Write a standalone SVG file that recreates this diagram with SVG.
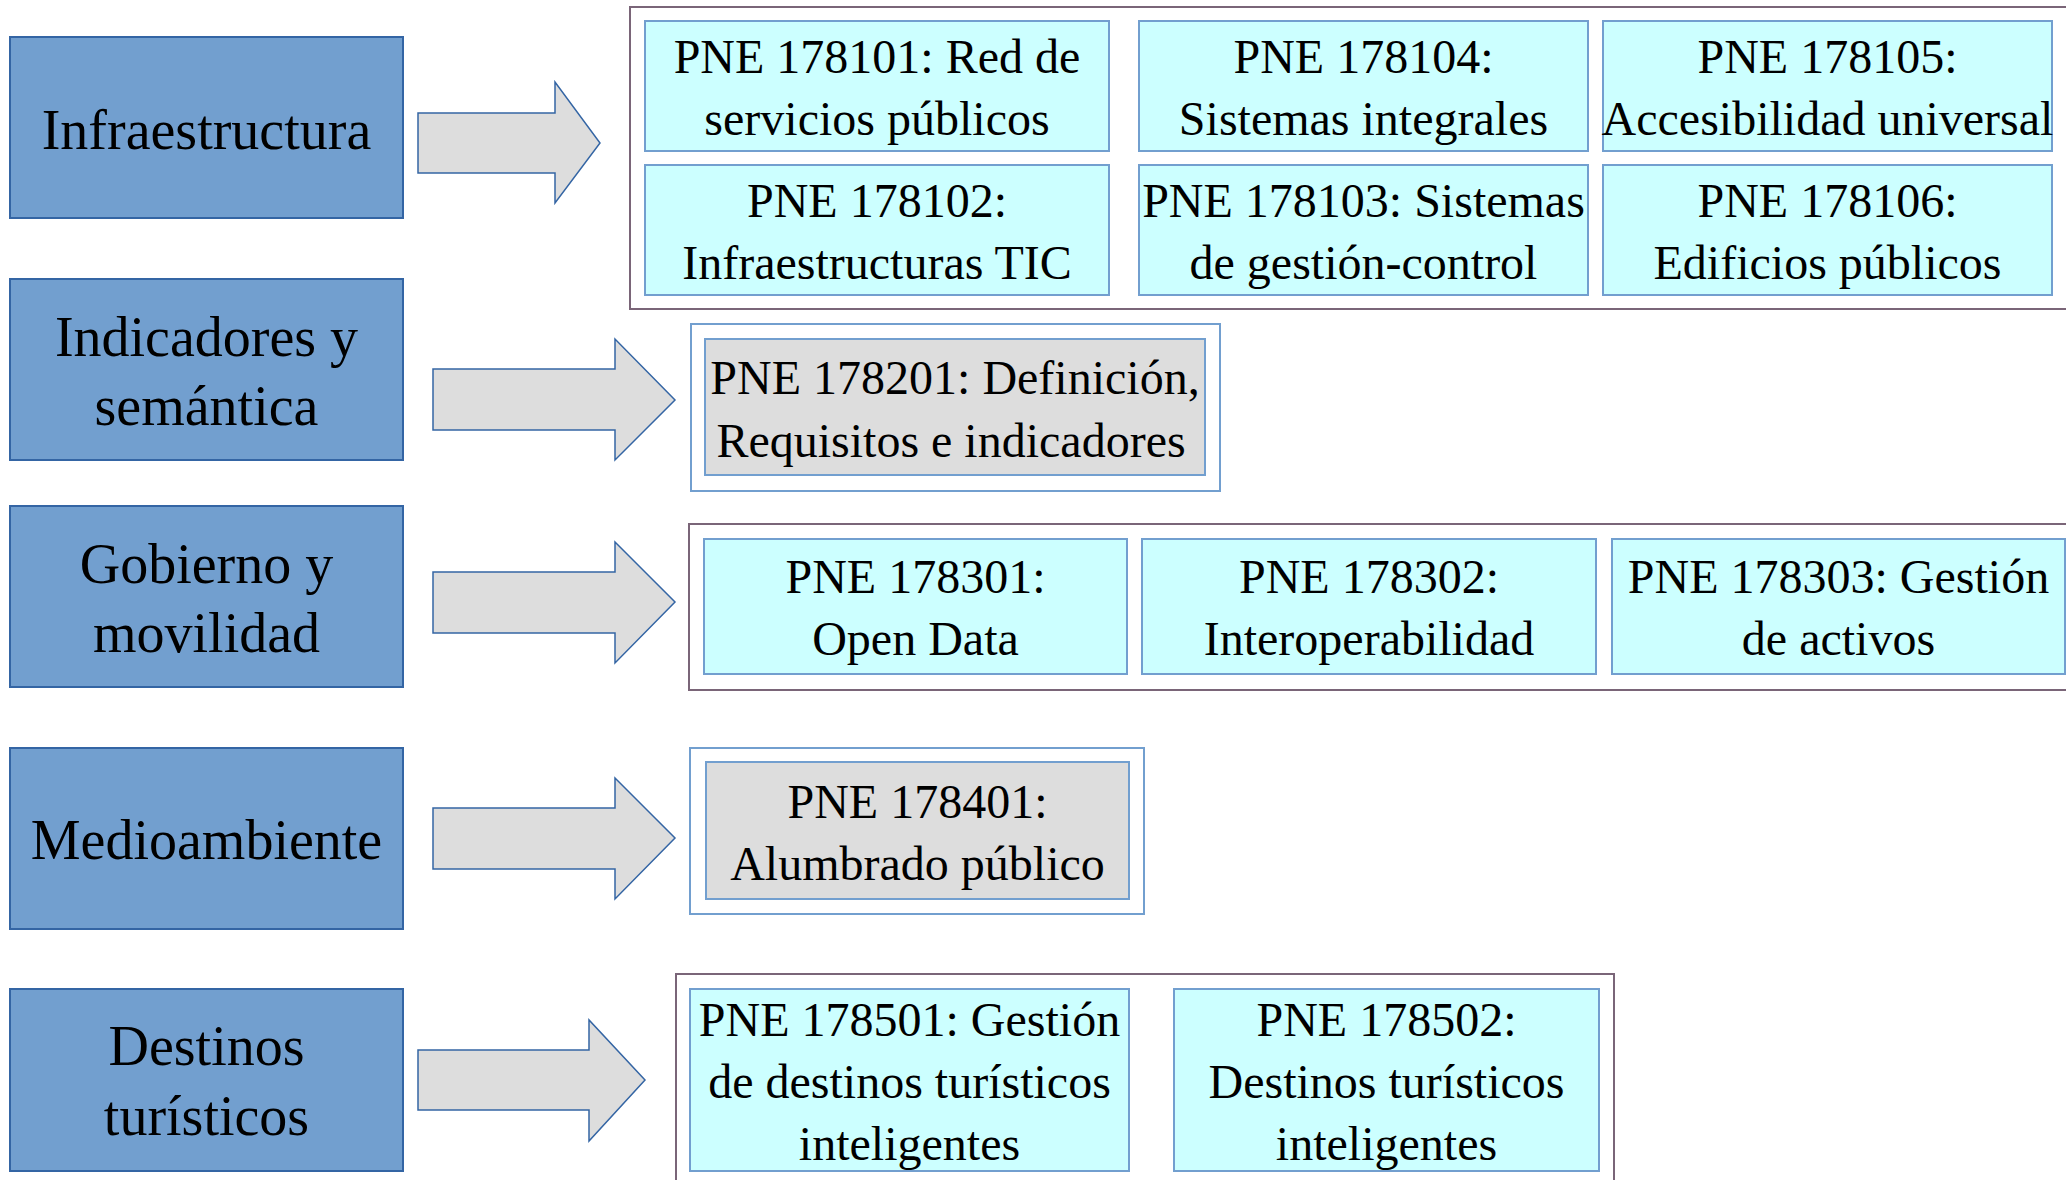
<svg xmlns="http://www.w3.org/2000/svg" width="2066" height="1180" viewBox="0 0 2066 1180">
<style>
text{font-family:"Liberation Serif","Times New Roman",serif;fill:#000;text-anchor:middle}
.lt{font-size:56px}
.rt{font-size:48px}
.cat{fill:#729fcf;stroke:#3465a4;stroke-width:2}
.cy{fill:#ccffff;stroke:#729fcf;stroke-width:2}
.gr{fill:#dddddd;stroke:#729fcf;stroke-width:2}
.ct{fill:#ffffff;stroke:#7a6578;stroke-width:2}
.cb{fill:#ffffff;stroke:#729fcf;stroke-width:2}
.ar{fill:#dddddd;stroke:#3465a4;stroke-width:1.5;stroke-linejoin:miter}
</style>
<rect width="2066" height="1180" fill="#ffffff"/>
<g id="connectors">
<polygon class="ar" points="418,113 555,113 555,82 600,143 555,203 555,173 418,173"/>
<polygon class="ar" points="433,369 615,369 615,339 675,400 615,460 615,430 433,430"/>
<polygon class="ar" points="433,572 615,572 615,542 675,602 615,663 615,633 433,633"/>
<polygon class="ar" points="433,808 615,808 615,778 675,838 615,899 615,869 433,869"/>
<polygon class="ar" points="418,1050 589,1050 589,1020 645,1080 589,1141 589,1110 418,1110"/>
</g>
<g id="n-infraestructura">
<rect class="cat" x="10" y="37" width="393" height="181"/>
<text class="lt" x="206.5" y="149">Infraestructura</text>
</g>
<g id="n-indicadores">
<rect class="cat" x="10" y="279" width="393" height="181"/>
<text class="lt" x="206.5" y="356">Indicadores y</text>
<text class="lt" x="206.5" y="425">semántica</text>
</g>
<g id="n-gobierno">
<rect class="cat" x="10" y="506" width="393" height="181"/>
<text class="lt" x="206.5" y="583">Gobierno y</text>
<text class="lt" x="206.5" y="652">movilidad</text>
</g>
<g id="n-medioambiente">
<rect class="cat" x="10" y="748" width="393" height="181"/>
<text class="lt" x="206.5" y="859">Medioambiente</text>
</g>
<g id="n-destinos">
<rect class="cat" x="10" y="989" width="393" height="182"/>
<text class="lt" x="206.5" y="1065">Destinos</text>
<text class="lt" x="206.5" y="1135">turísticos</text>
</g>
<g id="g-infraestructura">
<rect class="ct" x="630" y="7" width="1445" height="302"/>
<g id="pne178101">
<rect class="cy" x="645" y="21" width="464" height="130"/>
<text class="rt" x="877" y="73">PNE 178101: Red de</text>
<text class="rt" x="877" y="135">servicios públicos</text>
</g>
<g id="pne178104">
<rect class="cy" x="1139" y="21" width="449" height="130"/>
<text class="rt" x="1363.5" y="73">PNE 178104:</text>
<text class="rt" x="1363.5" y="135">Sistemas integrales</text>
</g>
<g id="pne178105">
<rect class="cy" x="1603" y="21" width="449" height="130"/>
<text class="rt" x="1827.5" y="73">PNE 178105:</text>
<text class="rt" x="1827.5" y="135">Accesibilidad universal</text>
</g>
<g id="pne178102">
<rect class="cy" x="645" y="165" width="464" height="130"/>
<text class="rt" x="877" y="217">PNE 178102:</text>
<text class="rt" x="877" y="279">Infraestructuras TIC</text>
</g>
<g id="pne178103">
<rect class="cy" x="1139" y="165" width="449" height="130"/>
<text class="rt" x="1363.5" y="217">PNE 178103: Sistemas</text>
<text class="rt" x="1363.5" y="279">de gestión-control</text>
</g>
<g id="pne178106">
<rect class="cy" x="1603" y="165" width="449" height="130"/>
<text class="rt" x="1827.5" y="217">PNE 178106:</text>
<text class="rt" x="1827.5" y="279">Edificios públicos</text>
</g>
</g>
<g id="g-indicadores">
<rect class="cb" x="691" y="324" width="529" height="167"/>
<g id="pne178201">
<rect class="gr" x="705" y="339" width="500" height="136"/>
<text class="rt" x="955" y="394">PNE 178201: Definición,</text>
<text class="rt" x="951" y="457">Requisitos e indicadores</text>
</g>
</g>
<g id="g-gobierno">
<rect class="ct" x="689" y="524" width="1386" height="166"/>
<g id="pne178301">
<rect class="cy" x="704" y="539" width="423" height="135"/>
<text class="rt" x="915.5" y="593">PNE 178301:</text>
<text class="rt" x="915.5" y="655">Open Data</text>
</g>
<g id="pne178302">
<rect class="cy" x="1142" y="539" width="454" height="135"/>
<text class="rt" x="1369" y="593">PNE 178302:</text>
<text class="rt" x="1369" y="655">Interoperabilidad</text>
</g>
<g id="pne178303">
<rect class="cy" x="1612" y="539" width="453" height="135"/>
<text class="rt" x="1838.5" y="593">PNE 178303: Gestión</text>
<text class="rt" x="1838.5" y="655">de activos</text>
</g>
</g>
<g id="g-medioambiente">
<rect class="cb" x="690" y="748" width="454" height="166"/>
<g id="pne178401">
<rect class="gr" x="706" y="762" width="423" height="137"/>
<text class="rt" x="917.5" y="818">PNE 178401:</text>
<text class="rt" x="917.5" y="880">Alumbrado público</text>
</g>
</g>
<g id="g-destinos">
<rect class="ct" x="676" y="974" width="938" height="220"/>
<g id="pne178501">
<rect class="cy" x="690" y="989" width="439" height="182"/>
<text class="rt" x="909.5" y="1036">PNE 178501: Gestión</text>
<text class="rt" x="909.5" y="1098">de destinos turísticos</text>
<text class="rt" x="909.5" y="1160">inteligentes</text>
</g>
<g id="pne178502">
<rect class="cy" x="1174" y="989" width="425" height="182"/>
<text class="rt" x="1386.5" y="1036">PNE 178502:</text>
<text class="rt" x="1386.5" y="1098">Destinos turísticos</text>
<text class="rt" x="1386.5" y="1160">inteligentes</text>
</g>
</g>
</svg>
